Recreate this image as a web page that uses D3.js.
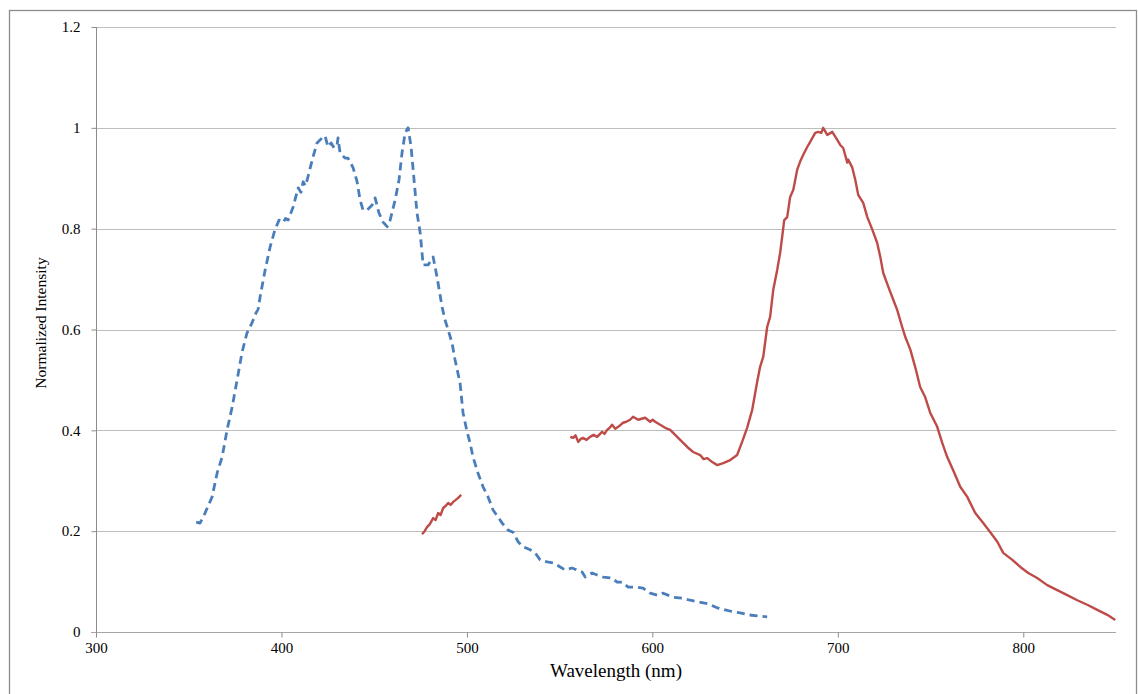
<!DOCTYPE html>
<html>
<head>
<meta charset="utf-8">
<script src="https://cdn.jsdelivr.net/npm/d3@7"></script>
<style>
  html, body { margin: 0; padding: 0; background: #fff; }
  svg { display: block; }
  svg text { font-family: "Liberation Serif", "Times New Roman", serif; fill: #000; }
</style>
</head>
<body>
<svg id="chart" width="1138" height="694"></svg>
<script>
// Excitation spectrum (dashed blue): wavelength in nm, normalized intensity
const excitationNm = [354, 356.1, 358.8, 362.6, 365.3, 368, 370.7, 373.4, 376.1, 378.7, 381.4, 384.1, 386.3, 387.4,
  388.5, 391.2, 393.9, 396.5, 398.7, 400.9, 402.2, 403.6, 406.3, 409, 410.5, 411.7, 413, 414.3, 417, 419.2, 421.9, 423.5,
  425.1, 426.8, 428.4, 430, 430.5, 431.6, 434.3, 435.9, 438.6, 440.8, 442.4, 444, 446.2, 448.9, 450.5, 452.6,
  454.8, 457, 458.6, 461.3, 463.4, 465, 466.7, 468.3, 469.9, 471, 473.1, 474.8, 476.4, 479.1, 481.8, 483.9,
  486.6, 488.2, 489.9, 492, 493.6, 496.3, 497.9, 500.1, 501.7, 503.3, 506, 508.7, 511.4, 514.1, 516.8, 519,
  522.2, 524.9, 527.6, 530.3, 534.1, 536.8, 539.5, 543.3, 546.5, 550.3, 553, 556.7, 559.4, 562.1, 563.8, 567.5,
  570.2, 573.5, 578.3, 581, 583.7, 587, 591.8, 595, 598.8, 602.6, 605.8, 611.2, 616.1, 620.4, 624.7, 630.1,
  634.9, 639.3, 643.6, 647.4, 651.7, 656.5, 661.9];
const excitationVal = [0.218, 0.216, 0.236, 0.268, 0.315, 0.347, 0.401, 0.446, 0.5, 0.554, 0.593, 0.613, 0.633, 0.64,
  0.665, 0.718, 0.764, 0.798, 0.817, 0.812, 0.82, 0.817, 0.843, 0.881, 0.872, 0.893, 0.885, 0.903, 0.942, 0.97, 0.98, 0.984,
  0.962, 0.97, 0.96, 0.966, 0.98, 0.95, 0.94, 0.94, 0.921, 0.893, 0.857, 0.837, 0.837, 0.847, 0.861, 0.831,
  0.813, 0.804, 0.817, 0.857, 0.897, 0.95, 0.99, 1.0, 0.962, 0.917, 0.831, 0.792, 0.728, 0.728, 0.744, 0.704,
  0.645, 0.619, 0.599, 0.573, 0.54, 0.494, 0.435, 0.397, 0.375, 0.347, 0.315, 0.288, 0.268, 0.242, 0.228, 0.216,
  0.202, 0.198, 0.179, 0.169, 0.163, 0.157, 0.143, 0.139, 0.137, 0.129, 0.123, 0.127, 0.123, 0.119, 0.109, 0.117,
  0.113, 0.109, 0.107, 0.099, 0.099, 0.089, 0.089, 0.087, 0.077, 0.073, 0.077, 0.069, 0.067, 0.063, 0.06, 0.056,
  0.048, 0.044, 0.04, 0.038, 0.034, 0.032, 0.03];

// Emission spectrum (solid red), short band below 500 nm
const emissionShortNm = [475.8, 477.2, 478.5, 480, 481.8, 483.1, 484.5, 485.8, 487.2, 488.5, 489.9, 491.2, 492.6, 494, 495.3, 496.9];
const emissionShortVal = [0.194, 0.2, 0.208, 0.214, 0.226, 0.222, 0.236, 0.232, 0.246, 0.25, 0.256, 0.252, 0.258, 0.262, 0.266, 0.272];

// Emission spectrum (solid red), main band
const emissionNm = [555.7, 557.3, 558.6, 560, 561.4, 562.7, 564.5, 566.4, 568.3, 570.2, 572.9, 574.2, 575.6, 577, 578.3,
  580, 581.6, 584.2, 586, 588, 589.6, 592.3, 594.2, 596.1, 598.8, 600.2, 601.5, 604.2, 606.9, 609.6, 612.3,
  615, 618.8, 622, 625.8, 627.5, 629.6, 632.3, 635, 638.2, 642, 645.7, 648.4, 651.1, 653.8, 656.5, 658.1, 659.8,
  661.9, 663.5, 665.2, 667.3, 668.9, 670, 671.1, 672.7, 674.3, 676, 678.1, 679.7, 681.3, 683.5, 685.1, 687.8,
  689.4, 691.1, 692.1, 694.3, 697, 699.7, 701.3, 702.9, 705.1, 705.6, 707.8, 709.4, 711, 713.7, 715.9, 718.6,
  721.2, 722.9, 724.5, 727.2, 729.9, 732, 734.7, 736.4, 739.1, 741.7, 744.4, 747.1, 749.8, 753.6, 756.3, 759,
  762.2, 766, 769.8, 774.1, 778.4, 782.2, 786, 789.2, 794.1, 798.4, 802.7, 807.5, 812.9, 818.3, 823.7, 829.1,
  834.5, 839.9, 845.3, 849.6];
const emissionVal = [0.387, 0.385, 0.39, 0.377, 0.383, 0.385, 0.381, 0.387, 0.391, 0.387, 0.397, 0.393, 0.401, 0.405, 0.411,
  0.403, 0.407, 0.415, 0.417, 0.421, 0.427, 0.421, 0.423, 0.425, 0.417, 0.421, 0.417, 0.411, 0.405, 0.401, 0.391,
  0.381, 0.367, 0.357, 0.351, 0.343, 0.345, 0.337, 0.331, 0.335, 0.341, 0.351, 0.377, 0.405, 0.44, 0.496, 0.526, 0.546,
  0.605, 0.625, 0.679, 0.718, 0.752, 0.784, 0.817, 0.823, 0.863, 0.877, 0.917, 0.933, 0.946, 0.962, 0.972, 0.99,
  0.992, 0.99, 1.0, 0.986, 0.992, 0.976, 0.966, 0.96, 0.931, 0.937, 0.921, 0.897, 0.867, 0.851, 0.823, 0.798,
  0.772, 0.744, 0.712, 0.685, 0.659, 0.639, 0.605, 0.585, 0.56, 0.526, 0.486, 0.466, 0.435, 0.407, 0.375, 0.347,
  0.321, 0.288, 0.268, 0.236, 0.216, 0.198, 0.179, 0.157, 0.143, 0.129, 0.117, 0.107, 0.093, 0.083, 0.073, 0.063,
  0.054, 0.044, 0.034, 0.024];

const xTicks = [300, 400, 500, 600, 700, 800];
const yTicks = [0, 0.2, 0.4, 0.6, 0.8, 1, 1.2];

const FONT = "'Liberation Serif', 'Times New Roman', serif";
const svg = d3.select("#chart");
const margin = { left: 96, right: 1116, top: 27, bottom: 632 };

const x = d3.scaleLinear().domain([300, 850]).range([margin.left, margin.right]);
const y = d3.scaleLinear().domain([0, 1.2]).range([margin.bottom, margin.top]);

// outer chart frame
svg.append("rect")
  .attr("x", 9.5).attr("y", 10.5).attr("width", 1127).attr("height", 700)
  .attr("fill", "none").attr("stroke", "#8c8c8c").attr("stroke-width", 1.3);

// horizontal gridlines
svg.append("g")
  .selectAll("line")
  .data(yTicks.filter(d => d > 0))
  .join("line")
  .attr("x1", margin.left).attr("x2", margin.right)
  .attr("y1", d => Math.round(y(d)) + 0.5).attr("y2", d => Math.round(y(d)) + 0.5)
  .attr("stroke", "#bdbdbd").attr("stroke-width", 1.2);

// y axis
const yAxis = svg.append("g")
  .attr("transform", `translate(${margin.left + 0.5},0)`)
  .call(d3.axisLeft(y).tickValues(yTicks).tickSize(5).tickPadding(11)
    .tickFormat(d => d3.format("~g")(d)));
yAxis.attr("font-family", FONT);
yAxis.select(".domain").attr("stroke", "#8c8c8c").attr("d", `M0,${margin.top}V${margin.bottom + 5}`);
yAxis.selectAll(".tick line").attr("stroke", "#8c8c8c");
yAxis.selectAll(".tick text").attr("font-size", 15).attr("font-family", FONT).attr("fill", "#000");

// x axis
const xAxis = svg.append("g")
  .attr("transform", `translate(0,${Math.round(y(0)) + 0.5})`)
  .call(d3.axisBottom(x).tickValues(xTicks).tickSize(5).tickPadding(5).tickFormat(d3.format("d")));
xAxis.attr("font-family", FONT);
xAxis.select(".domain").attr("stroke", "#a6a6a6").attr("d", `M${margin.left - 5},0H${margin.right}`);
xAxis.selectAll(".tick line").attr("stroke", "#8c8c8c");
xAxis.selectAll(".tick text").attr("font-size", 15).attr("font-family", FONT).attr("fill", "#000");

// axis titles
svg.append("text")
  .attr("x", 616).attr("y", 677)
  .attr("text-anchor", "middle").attr("font-size", 19).attr("font-family", FONT)
  .text("Wavelength (nm)");
svg.append("text")
  .attr("transform", `translate(46,323) rotate(-90)`)
  .attr("text-anchor", "middle").attr("font-size", 15.5).attr("font-family", FONT)
  .text("Normalized Intensity");

const line = d3.line().x(d => x(d[0])).y(d => y(d[1]));

const excitation = excitationNm.map((n, i) => [n, excitationVal[i]]);
const emissionShort = emissionShortNm.map((n, i) => [n, emissionShortVal[i]]);
const emission = emissionNm.map((n, i) => [n, emissionVal[i]]);

svg.append("path").datum(excitation)
  .attr("d", line).attr("fill", "none")
  .attr("stroke", "#4a7ebb").attr("stroke-width", 2.8)
  .attr("stroke-dasharray", "8,5").attr("stroke-linejoin", "round");

[emissionShort, emission].forEach(seg => {
  svg.append("path").datum(seg)
    .attr("d", line).attr("fill", "none")
    .attr("stroke", "#be4b48").attr("stroke-width", 2.4)
    .attr("stroke-linejoin", "round");
});
</script>
</body>
</html>
